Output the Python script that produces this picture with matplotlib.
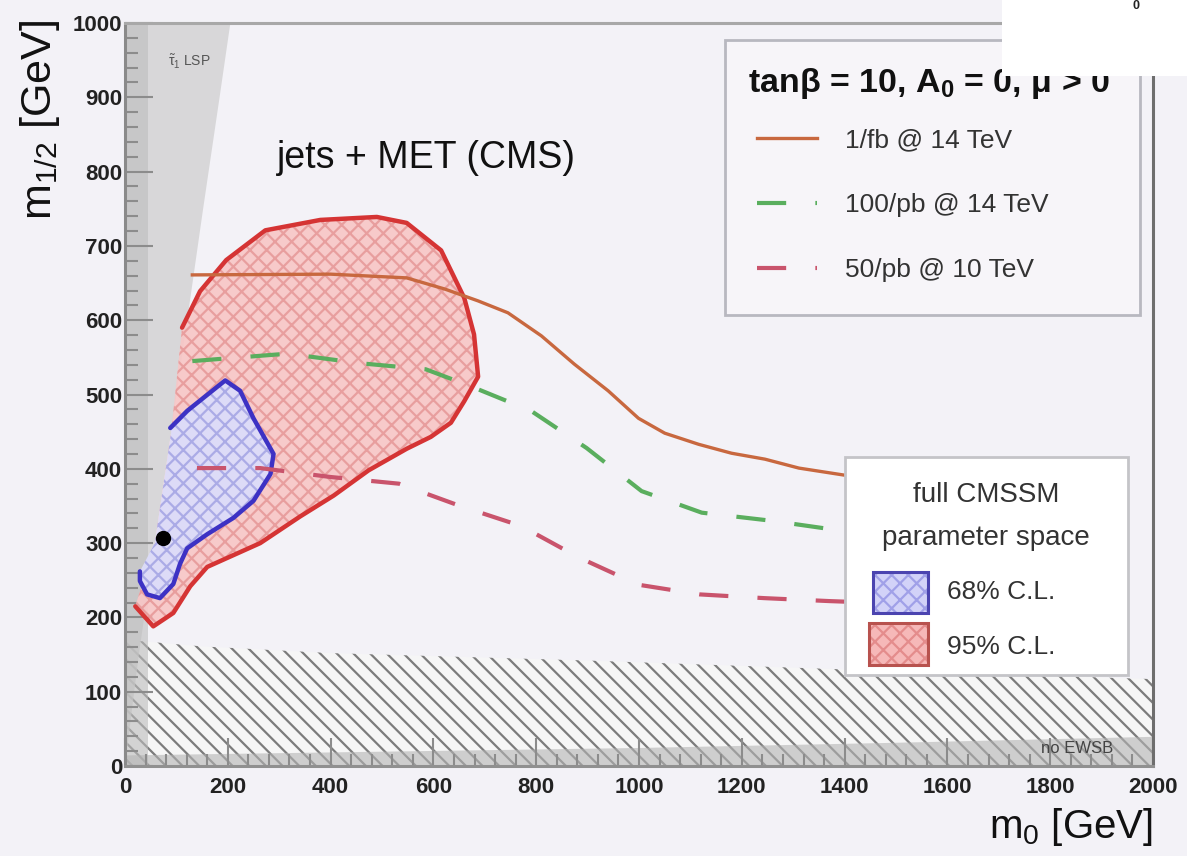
import numpy as np
import matplotlib
matplotlib.use("Agg")
import matplotlib.pyplot as plt
from matplotlib.patches import Rectangle

plt.rcParams['font.family'] = ['Liberation Sans', 'DejaVu Sans']
plt.rcParams['mathtext.default'] = 'regular'
plt.rcParams['hatch.linewidth'] = 1.6

# ---------------- data (m0, m1/2 in GeV) ----------------
# stau-LSP boundary (gray wedge on the left)
lsp_m12 = [0, 150, 300, 450, 600, 750, 900, 1000]
lsp_m0 = [0, 27, 58, 90, 121, 152, 184, 205]

# LEP chargino bound (hatched band at the bottom)
lep_m0 = [0, 150, 400, 900, 1400, 2000]
lep_m12 = [170, 161, 152, 142, 130, 117]

# no EWSB strip
ewsb_m0 = [0, 500, 1000, 1500, 2000]
ewsb_m12 = [15, 20, 25, 32, 40]

# reach curves
fb1_m0 = [131, 400, 548, 622, 687, 745, 810, 874, 940, 999, 1050, 1116, 1180, 1245, 1311, 1395, 1450]
fb1_m12 = [661, 662, 657, 642, 626, 610, 579, 541, 505, 468, 448, 433, 421, 413, 401, 392, 386]

pb100_m0 = [131, 316, 459, 585, 673, 790, 898, 1005, 1122, 1259, 1401, 1450]
pb100_m12 = [545, 555, 542, 534, 511, 478, 428, 370, 341, 330, 316, 313]

pb50_m0 = [140, 263, 400, 533, 652, 771, 882, 999, 1118, 1243, 1370, 1450]
pb50_m12 = [401, 401, 389, 380, 350, 323, 281, 244, 231, 226, 222, 220]

# 95% C.L. contour (open part, the rest closes on the LSP boundary)
c95_m0 = [111, 146, 197, 273, 380, 490, 548, 615, 660, 679, 687, 660, 634, 595, 548,
          474, 406, 341, 263, 160, 127, 94, 55, 20]
c95_m12 = [590, 639, 681, 721, 735, 739, 731, 694, 630, 581, 524, 491, 462, 443, 427,
           398, 364, 336, 300, 268, 242, 206, 188, 215]

# 68% C.L. contour
c68_m0 = [88, 121, 195, 224, 250, 289, 283, 250, 211, 160, 121, 107, 94, 68, 43, 29, 29]
c68_m12 = [455, 478, 519, 505, 468, 420, 393, 357, 334, 312, 293, 272, 245, 226, 231, 249, 262]

# best fit point
best_m0 = [74]
best_m12 = [307]

legend_labels = ["1/fb @ 14 TeV", "100/pb @ 14 TeV", "50/pb @ 10 TeV"]


def close_on_lsp(m0, m12):
    bx = np.array(lsp_m0, float)
    by = np.array(lsp_m12, float)
    lo, hi = m12[-1], m12[0]
    sel = (by > lo) & (by < hi)
    return (np.concatenate([m0, bx[sel]]), np.concatenate([m12, by[sel]]))


bg = '#f3f2f7'
fig = plt.figure(figsize=(11.87, 8.56), dpi=100, facecolor=bg)
ax = fig.add_axes([0.1053, 0.1051, 0.8661, 0.868], facecolor=bg)
ax.set_xlim(0, 2000)
ax.set_ylim(0, 1000)

# hatched LEP region
ax.fill_between(lep_m0, 0, lep_m12, facecolor='#f6f6f6', edgecolor='#7c7c7c',
                hatch='\\\\', lw=0, zorder=1)

# LSP wedge (light outer, darker inner band)
wx = np.concatenate([[0], lsp_m0, [0]])
wy = np.concatenate([[0], lsp_m12, [1000]])
ax.fill(wx, wy, color='#cfcfcf', alpha=0.75, lw=0, zorder=1.2)
ax.fill_betweenx([0, 1000], 0, 45, color='#bdbdbd', alpha=0.6, lw=0, zorder=1.25)

# no EWSB strip
ax.fill_between(ewsb_m0, 0, ewsb_m12, color='#b4b4b4', alpha=0.6, lw=0, zorder=1.3)

# contours
rx, ry = close_on_lsp(c95_m0, c95_m12)
ax.fill(rx, ry, facecolor='#f8c6c6', edgecolor='#e79a9a', hatch='xx', lw=0,
        alpha=0.9, zorder=2)
bx_, by_ = close_on_lsp(c68_m0, c68_m12)
ax.fill(bx_, by_, facecolor='#dcdcfa', edgecolor='#a9a9e6', hatch='xx', lw=0,
        alpha=0.95, zorder=2.2)
ax.plot(c95_m0, c95_m12, color='#d53434', lw=3.2, zorder=3, solid_capstyle='round')
ax.plot(c68_m0, c68_m12, color='#3d32c4', lw=3.2, zorder=3.1, solid_capstyle='round')

# reach curves
l1, = ax.plot(fb1_m0, fb1_m12, color='#c8683f', lw=2.4, zorder=4)
l2, = ax.plot(pb100_m0, pb100_m12, color='#5aae5e', lw=3, ls=(0, (7, 7)), zorder=4)
l3, = ax.plot(pb50_m0, pb50_m12, color='#c9546c', lw=3, ls=(0, (7, 7)), zorder=4)

ax.plot(best_m0, best_m12, 'o', color='black', ms=10, zorder=5)

# axes styling
ax.set_xticks(np.arange(0, 2001, 200))
ax.set_yticks(np.arange(0, 1001, 100))
ax.set_xticks(np.arange(0, 2001, 40), minor=True)
ax.set_yticks(np.arange(0, 1001, 20), minor=True)
ax.tick_params(which='both', direction='in', color='#8c8c8c', width=1.5)
ax.tick_params(which='major', length=20)
ax.tick_params(which='minor', length=9)
ax.tick_params(axis='x', labelsize=16, pad=8, labelcolor='#222222')
ax.tick_params(axis='y', labelsize=16, pad=2, labelcolor='#222222')
for lab in ax.get_xticklabels() + ax.get_yticklabels():
    lab.set_fontweight('bold')
for side, c in [('left', '#8a8a8a'), ('top', '#a8a8a8'), ('right', '#6e6e6e'), ('bottom', '#909090')]:
    ax.spines[side].set_color(c)
    ax.spines[side].set_linewidth(2.2)
    ax.spines[side].set_zorder(8)

# texts in the plot
ax.text(0.148, 0.818, "jets + MET (CMS)", transform=ax.transAxes, fontsize=27,
        ha='left', va='center', color='#111111', zorder=6)
ax.text(0.042, 0.9475, r"$\tilde{\tau}_1$ LSP", transform=ax.transAxes, fontsize=10,
        ha='left', va='center', color='#555555', zorder=6)
ax.text(0.961, 0.023, "no EWSB", transform=ax.transAxes, fontsize=12,
        ha='right', va='center', color='#444444', zorder=6)

# legend 1
ax.add_patch(Rectangle((0.5837, 0.607), 0.4037, 0.3701, transform=ax.transAxes,
                       facecolor='#f7f5f9', edgecolor='#b8b8c0', lw=2, zorder=6))
ax.text(0.606, 0.919, r"tanβ = 10, A$_0$ = 0, μ > 0", transform=ax.transAxes,
        fontsize=24.5, fontweight='bold', ha='left', va='center', color='#111111', zorder=7)
leg = ax.legend([l1, l2, l3], legend_labels, loc='upper left',
                bbox_to_anchor=(0.615, 0.858), frameon=False, fontsize=19,
                borderpad=0, borderaxespad=0, handlelength=2.27, handletextpad=1.06,
                labelspacing=1.55)
leg.set_zorder(7)
for t in leg.get_texts():
    t.set_color('#333333')

# legend 2
ax.add_patch(Rectangle((0.700, 0.122), 0.276, 0.294, transform=ax.transAxes,
                       facecolor='white', edgecolor='#c4c4c8', lw=2, zorder=6))
ax.text(0.8375, 0.3647, "full CMSSM", transform=ax.transAxes, fontsize=20,
        ha='center', va='center', color='#333333', zorder=7)
ax.text(0.8375, 0.3069, "parameter space", transform=ax.transAxes, fontsize=20,
        ha='center', va='center', color='#333333', zorder=7)
ax.add_patch(Rectangle((0.7276, 0.2059), 0.0535, 0.0552, transform=ax.transAxes,
                       facecolor='#d2d2f8', edgecolor='#a0a0e8', hatch='xx', lw=0, zorder=7))
ax.add_patch(Rectangle((0.7276, 0.2059), 0.0535, 0.0552, transform=ax.transAxes,
                       facecolor='none', edgecolor='#4b44b0', lw=2.2, zorder=7.1))
ax.add_patch(Rectangle((0.7237, 0.1359), 0.0574, 0.0566, transform=ax.transAxes,
                       facecolor='#f6b8b8', edgecolor='#e48c8c', hatch='xx', lw=0, zorder=7))
ax.add_patch(Rectangle((0.7237, 0.1359), 0.0574, 0.0566, transform=ax.transAxes,
                       facecolor='none', edgecolor='#b8524e', lw=2.2, zorder=7.1))
ax.text(0.7996, 0.2342, "68% C.L.", transform=ax.transAxes, fontsize=19,
        ha='left', va='center', color='#333333', zorder=7)
ax.text(0.7996, 0.1602, "95% C.L.", transform=ax.transAxes, fontsize=19,
        ha='left', va='center', color='#333333', zorder=7)

# axis titles
fig.text(0.9714, 0.0339, r"m$_0$ [GeV]", fontsize=29, ha='right', va='center', color='#111111')
fig.text(0.0337, 0.9766, r"m$_{1/2}$ [GeV]", fontsize=31, rotation=90,
         ha='center', va='top', color='#111111')

# white patch in the upper right corner of the original picture
fig.patches.append(Rectangle((0.844, 0.911), 0.156, 0.089, transform=fig.transFigure,
                             facecolor='white', edgecolor='none', zorder=20))
fig.text(0.957, 0.9935, "0", fontsize=9, fontweight='bold', ha='center', va='center',
         color='#222222', zorder=21)

fig.savefig("out.png", dpi=100, facecolor=bg)
